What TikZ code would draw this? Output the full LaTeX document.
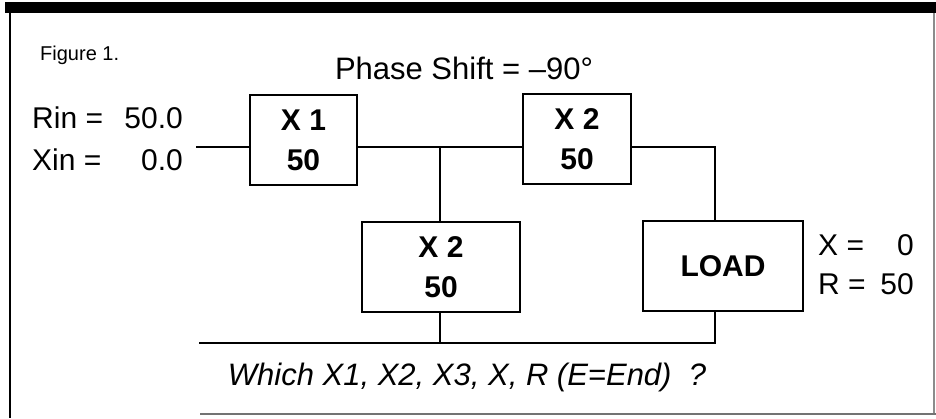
\documentclass[tikz,border=0pt]{standalone}
\usepackage{fontspec}
\setmainfont{Liberation Sans}
\usetikzlibrary{calc}
\begin{document}
\begin{tikzpicture}[x=1pt,y=-1pt,
  wire/.style={line width=1.8pt,line cap=rect},
  block/.style={draw,line width=1.8pt,rectangle,inner sep=0pt,
    font=\fontsize{30}{40}\selectfont\bfseries,align=center},
  lbl/.style={inner sep=0pt,font=\fontsize{30}{42}\selectfont}]
\useasboundingbox (0,0) rectangle (936,418);
% frame
\fill (5,2) rectangle (936,13);
\draw[line width=2pt] (10,13) -- (10,418);
\draw[line width=1.2pt,black!45] (934,13) -- (934,415);
\draw[line width=1.5pt,black!55] (200,414) -- (936,414);
% blocks
\node[block,minimum width=107pt,minimum height=90pt] (X1) at (303.5,140) {X 1\\50};
\node[block,minimum width=108pt,minimum height=90pt] (X2a) at (577,139) {X 2\\50};
\node[block,minimum width=158pt,minimum height=90pt] (X2b) at (441,267) {X 2\\50};
\node[block,minimum width=160pt,minimum height=90pt] (LOAD) at (723,266) {LOAD};
% wiring points
\coordinate (in) at (197,147);
\coordinate (j) at (440,147);
\coordinate (top) at (715,147);
\coordinate (gnd) at (200,343);
\coordinate (ret) at (715,343);
\draw[wire] (in) -- (in -| X1.west);
\draw[wire] (X1.east |- in) -- (X2a.west |- in);
\draw[wire] (X2a.east |- in) -- (top) -- (top |- LOAD.north);
\draw[wire] (j) -- (j |- X2b.north);
\draw[wire] (j |- X2b.south) -- (440,343);
\draw[wire] (gnd) -- (ret) -- (ret |- LOAD.south);
% labels
\node[inner sep=0pt,anchor=west,font=\fontsize{20}{24}\selectfont] (fig) at (40,55) {Figure 1.};
\node[inner sep=0pt,font=\fontsize{31}{36}\selectfont] (ps) at (464,68) {Phase Shift = –90°};
\node[lbl,anchor=west] (rin) at (32,118) {Rin =};
\node[lbl,anchor=east] (rinv) at (183,118) {50.0};
\node[lbl,anchor=west] (xin) at (32,160) {Xin =};
\node[lbl,anchor=east] (xinv) at (183,160) {0.0};
\node[lbl,anchor=west] (xl) at (818,245) {X =};
\node[lbl,anchor=east] (xv) at (914,245) {0};
\node[lbl,anchor=west] (rl) at (818,284) {R =};
\node[lbl,anchor=east] (rv) at (914,284) {50};
\node[inner sep=0pt,font=\fontsize{31}{36}\selectfont\itshape] (q) at (467,377) {Which X1, X2, X3, X, R (E=End)\ \ ?};
\end{tikzpicture}
\end{document}
